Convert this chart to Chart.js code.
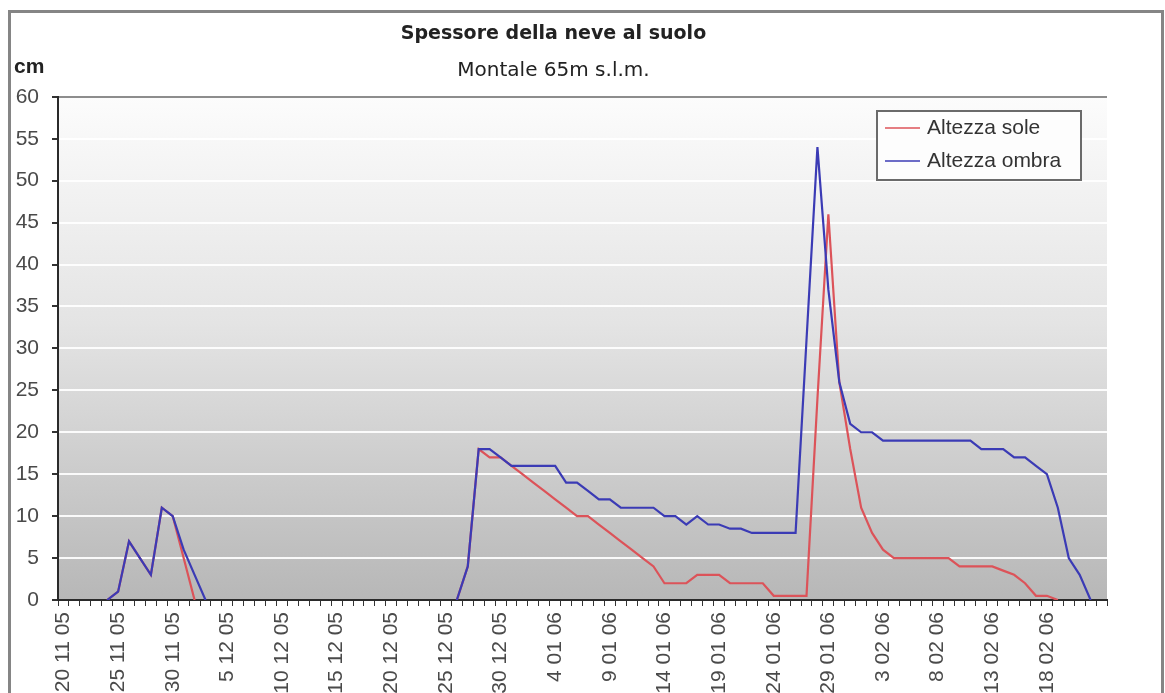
<!DOCTYPE html>
<html>
<head>
<meta charset="utf-8">
<title>Spessore della neve al suolo</title>
<script src="https://cdn.jsdelivr.net/npm/chart.js@4.4.1/dist/chart.umd.min.js"></script>
<style>
  html, body { margin: 0; padding: 0; background: #fff; overflow: hidden; }
  #frame { position: absolute; left: 8px; top: 10px; width: 1156px; height: 760px;
           border: 3px solid #858585; box-sizing: border-box; }
  #wrap { position: absolute; left: 0; top: 0; width: 1165px; height: 700px; }
</style>
</head>
<body>
<div id="frame"></div>
<div id="wrap"><canvas id="snowChart"></canvas></div>
<script>
// giorni (d mm yy)
const dayLabels = [
  "20 11 05","21 11 05","22 11 05","23 11 05","24 11 05","25 11 05","26 11 05","27 11 05","28 11 05","29 11 05","30 11 05",
  "1 12 05","2 12 05","3 12 05","4 12 05","5 12 05","6 12 05","7 12 05","8 12 05","9 12 05","10 12 05",
  "11 12 05","12 12 05","13 12 05","14 12 05","15 12 05","16 12 05","17 12 05","18 12 05","19 12 05","20 12 05",
  "21 12 05","22 12 05","23 12 05","24 12 05","25 12 05","26 12 05","27 12 05","28 12 05","29 12 05","30 12 05","31 12 05",
  "1 01 06","2 01 06","3 01 06","4 01 06","5 01 06","6 01 06","7 01 06","8 01 06","9 01 06","10 01 06",
  "11 01 06","12 01 06","13 01 06","14 01 06","15 01 06","16 01 06","17 01 06","18 01 06","19 01 06","20 01 06",
  "21 01 06","22 01 06","23 01 06","24 01 06","25 01 06","26 01 06","27 01 06","28 01 06","29 01 06","30 01 06","31 01 06",
  "1 02 06","2 02 06","3 02 06","4 02 06","5 02 06","6 02 06","7 02 06","8 02 06","9 02 06","10 02 06",
  "11 02 06","12 02 06","13 02 06","14 02 06","15 02 06","16 02 06","17 02 06","18 02 06","19 02 06","20 02 06",
  "21 02 06","22 02 06","23 02 06"
];

// cm di neve al sole
const altezzaSole = [
  null, null, null, null,
  0, 1, 7, 5, 3, 11, 10, 5, 0,
  null, null, null, null, null, null, null, null, null, null, null, null,
  null, null, null, null, null, null, null, null, null, null, null,
  0, 4, 18, 17, 17, 16, 15, 14, 13, 12,
  11, 10, 10, 9, 8, 7, 6, 5, 4, 2,
  2, 2, 3, 3, 3, 2, 2, 2, 2,
  0.5, 0.5, 0.5, 0.5,
  24, 46, 26, 18, 11, 8, 6, 5,
  5, 5, 5, 5, 5,
  4, 4, 4, 4, 3.5, 3, 2, 0.5, 0.5, 0,
  null, null, null, null
];

// cm di neve all'ombra
const altezzaOmbra = [
  null, null, null, null,
  0, 1, 7, 5, 3, 11, 10, 6, 3, 0,
  null, null, null, null, null, null, null, null, null, null, null,
  null, null, null, null, null, null, null, null, null, null, null,
  0, 4, 18, 18, 17, 16, 16, 16, 16, 16,
  14, 14, 13, 12, 12, 11, 11, 11, 11, 10,
  10, 9, 10, 9, 9, 8.5, 8.5, 8, 8, 8, 8, 8,
  31, 54, 37, 26, 21, 20, 20,
  19, 19, 19, 19, 19, 19, 19, 19, 19,
  18, 18, 18, 17, 17, 16, 15, 11, 5, 3, 0,
  null
];

const seriesNames = ['Altezza sole', 'Altezza ombra'];
const seriesColors = ['#dc5359', '#3b3bb5'];
const yMin = 0, yMax = 60, yStep = 5;
const labelStep = 5;

// sfondo grigio sfumato dell'area del grafico
const plotBackground = {
  id: 'plotBackground',
  beforeDraw: function(chart) {
    let a = chart.chartArea, ctx = chart.ctx;
    let g = ctx.createLinearGradient(0, a.top, 0, a.bottom);
    g.addColorStop(0, '#fcfcfc');
    g.addColorStop(0.45, '#e4e4e4');
    g.addColorStop(1, '#b7b7b7');
    ctx.save();
    ctx.fillStyle = g;
    ctx.fillRect(a.left, a.top, a.right - a.left, a.bottom - a.top);
    ctx.restore();
  }
};

// "cm" e legenda incorniciata
const extraText = {
  id: 'extraText',
  afterDraw: function(chart) {
    let ctx = chart.ctx;
    ctx.save();
    ctx.fillStyle = '#222';
    ctx.font = 'bold 21px "Liberation Sans", Arial, sans-serif';
    ctx.textBaseline = 'middle';
    ctx.textAlign = 'left';
    ctx.fillText('cm', 14, 67);

    let bx = 877, by = 111, bw = 204, bh = 69;
    ctx.fillStyle = '#fdfdfd';
    ctx.fillRect(bx, by, bw, bh);
    ctx.strokeStyle = '#6a6a6a';
    ctx.lineWidth = 2;
    ctx.strokeRect(bx, by, bw, bh);
    ctx.font = '21px "Liberation Sans", Arial, sans-serif';
    chart.data.datasets.forEach(function(ds, i) {
      let y = by + 17 + i * 33;
      ctx.strokeStyle = ds.borderColor;
      ctx.lineWidth = 1.6;
      ctx.beginPath();
      ctx.moveTo(bx + 8, y);
      ctx.lineTo(bx + 43, y);
      ctx.stroke();
      ctx.fillStyle = '#333';
      ctx.fillText(ds.label, bx + 50, y);
    });
    ctx.restore();
  }
};

function setupChart() {
  let ctx = document.getElementById('snowChart');
  new Chart(ctx, {
    type: 'line',
    data: {
      labels: dayLabels,
      datasets: [{
        label: seriesNames[0],
        data: altezzaSole,
        borderColor: seriesColors[0],
        borderWidth: 2.2,
        pointRadius: 0,
        tension: 0,
        order: 1
      }, {
        label: seriesNames[1],
        data: altezzaOmbra,
        borderColor: seriesColors[1],
        borderWidth: 2.2,
        pointRadius: 0,
        tension: 0,
        order: 0
      }]
    },
    options: {
      responsive: true,
      maintainAspectRatio: false,
      animation: { duration: 0 },
      layout: { padding: { left: 0, right: 58, top: 0, bottom: 0 } },
      plugins: {
        legend: { display: false },
        tooltip: { enabled: false },
        title: {
          display: true,
          text: 'Spessore della neve al suolo',
          color: '#222',
          font: { family: '"DejaVu Sans"', size: 19, weight: 'bold' },
          padding: { top: 23, bottom: 13 }
        },
        subtitle: {
          display: true,
          text: 'Montale 65m s.l.m.',
          color: '#222',
          font: { family: '"DejaVu Sans"', size: 20 },
          padding: { top: 0, bottom: 14 }
        }
      },
      scales: {
        x: {
          offset: true,
          grid: { offset: true, drawOnChartArea: false, drawTicks: true, tickLength: 6, tickColor: '#333' },
          border: { color: '#2a2a2a', width: 2 },
          ticks: {
            autoSkip: false,
            minRotation: 90,
            maxRotation: 90,
            padding: 6,
            color: '#4a4a4a',
            font: { family: '"Liberation Sans"', size: 21 },
            callback: function(val, idx) {
              // etichetta ogni 5 giorni, l'ultimo giorno senza etichetta
              if (idx % labelStep === 0 && idx < dayLabels.length - labelStep) {
                return this.getLabelForValue(val);
              }
              return '';
            }
          },
          afterFit: function(scale) { scale.height = 100; }
        },
        y: {
          min: yMin,
          max: yMax,
          grid: {
            color: function(c) { return c.tick.value === yMax ? '#8d8d8d' : 'rgba(255,255,255,0.9)'; },
            lineWidth: 2,
            tickLength: 6,
            tickColor: '#333'
          },
          border: { color: '#2a2a2a', width: 2 },
          ticks: {
            stepSize: yStep,
            padding: 13,
            color: '#4a4a4a',
            font: { family: '"Liberation Sans"', size: 21 }
          },
          afterFit: function(scale) { scale.width = 58; }
        }
      }
    },
    plugins: [plotBackground, extraText]
  });
}

setupChart();
</script>
</body>
</html>
